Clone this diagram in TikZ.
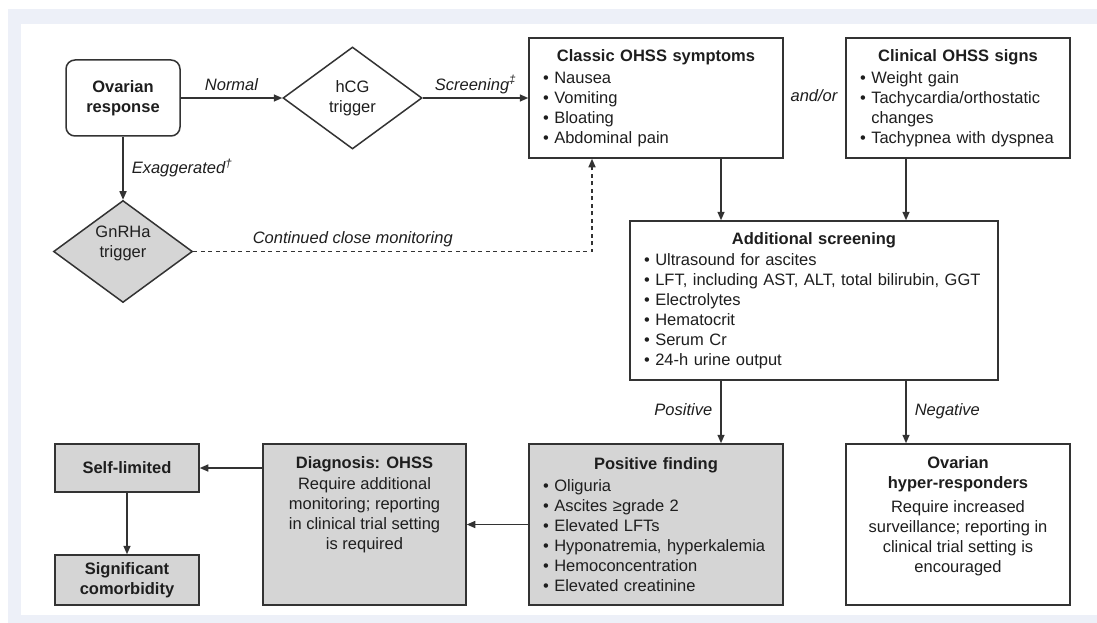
\documentclass[tikz,border=0pt]{standalone}
\usepackage{fontspec}
\setmainfont{Liberation Sans}
\usetikzlibrary{shapes.geometric,arrows.meta}
\setlength{\parindent}{0pt}

\definecolor{linec}{HTML}{333333}
\definecolor{txtc}{HTML}{1E1E1E}
\definecolor{fillgray}{HTML}{D5D5D5}
\definecolor{framebg}{HTML}{EDF0F8}

\tikzset{
  box/.style={draw=linec, line width=1.5pt, rectangle, inner sep=0pt},
  graybox/.style={box, fill=fillgray},
  decision/.style={draw=linec, line width=1.5pt, diamond, inner sep=0pt,
                   minimum width=139pt, minimum height=102pt, align=center},
  arr/.style={draw=linec, line width=1.5pt, -{Triangle[length=8.5pt,width=7pt]}},
  lbl/.style={font=\fontsize{16.5}{20}\selectfont\itshape, inner sep=3pt, text depth=4pt},
}

\begin{document}
\begin{tikzpicture}[x=1pt, y=-1pt,
    every node/.style={font=\fontsize{16.5}{20}\selectfont, text=txtc}]
% frame
\useasboundingbox (0,0) rectangle (1097,623);
\fill[white] (0,0) rectangle (1097,623);
\fill[framebg] (8,9) rectangle (1097,623);
\fill[white] (21,24) rectangle (1097,615);

% columns of the vertical arrows
\coordinate (lcol) at (721,0);
\coordinate (rcol) at (906,0);
\coordinate (dcol) at (592,0);

% top row
\node[box, rounded corners=9pt, minimum width=114pt, minimum height=76pt, align=center,
      font=\fontsize{16.5}{20}\selectfont\bfseries] (ovarian) at (123,98) {Ovarian\\response};
\node[decision] (hcg) at (352.5,98) {hCG\\trigger};
\node[box, minimum width=254pt, minimum height=120pt, text width=226pt] (classic) at (656,98)
  {{\centering\bfseries Classic OHSS symptoms\par}\vspace{2pt}
   • Nausea\\ • Vomiting\\ • Bloating\\ • Abdominal pain};
\node[lbl] (andor) at (814,98) {and/or};
\node[box, minimum width=224pt, minimum height=120pt, text width=196pt] (clinical) at (958,98)
  {{\centering\bfseries Clinical OHSS signs\par}\vspace{2pt}
   • Weight gain\\ • Tachycardia/orthostatic\\ \phantom{• }changes\\ • Tachypnea with dyspnea};

% middle
\node[decision, fill=fillgray] (gnrha) at (123,251.5) {};
\node[align=center] (gnrhatxt) at (123,243.5) {GnRHa\\trigger};
\node[box, minimum width=368pt, minimum height=159pt, text width=340pt] (additional) at (814,300.5)
  {{\centering\bfseries Additional screening\par}\vspace{1pt}
   • Ultrasound for ascites\\ • LFT, including AST, ALT, total bilirubin, GGT\\ • Electrolytes\\
   • Hematocrit\\ • Serum Cr\\ • 24-h urine output};

% bottom row
\node[graybox, minimum width=254pt, minimum height=161pt, text width=226pt] (positive) at (656,524.5)
  {{\centering\bfseries Positive finding\par}\vspace{2pt}
   • Oliguria\\ • Ascites ≥grade 2\\ • Elevated LFTs\\ • Hyponatremia, hyperkalemia\\
   • Hemoconcentration\\ • Elevated creatinine};
\node[box, minimum width=224pt, minimum height=161pt] (hyper) at (958,524.5) {};
\node[align=center, anchor=north, inner sep=0pt] (hypertxt) at ([yshift=-13pt]hyper.north)
  {\textbf{Ovarian}\\ \textbf{hyper-responders}\\[4pt] Require increased\\ surveillance; reporting in\\
   clinical trial setting is\\ encouraged};
\node[graybox, minimum width=203pt, minimum height=161pt] (diag) at (364.5,524.5) {};
\node[align=center, anchor=north, inner sep=0pt] (diagtxt) at ([yshift=-13pt]diag.north)
  {\textbf{Diagnosis: OHSS}\\[1pt] Require additional\\ monitoring; reporting\\
   in clinical trial setting\\ is required};
\node[graybox, minimum width=144pt, minimum height=48pt, font=\fontsize{16.5}{20}\selectfont\bfseries]
  (selflim) at (127,468) {Self-limited};
\node[graybox, minimum width=144pt, minimum height=50pt, align=center,
      font=\fontsize{16.5}{20}\selectfont\bfseries] (signif) at (127,580) {Significant\\comorbidity};

% connectors
\path (ovarian) edge[arr] node[lbl, above] {Normal} (hcg);
\path (hcg) edge[arr] node[lbl, above] {Screening\textsuperscript{‡}} (classic);
\path (ovarian) edge[arr] node[lbl, right=5pt] {Exaggerated\textsuperscript{†}} (gnrha);
\draw[arr] (classic.south -| lcol) -- (additional.north -| lcol);
\draw[arr] (clinical.south -| rcol) -- (additional.north -| rcol);
\draw[arr] (additional.south -| lcol) -- node[lbl, left=5pt] {Positive} (positive.north -| lcol);
\draw[arr] (additional.south -| rcol) -- node[lbl, right=5pt] {Negative} (hyper.north -| rcol);
\path (positive) edge[arr] (diag);
\draw[arr] (selflim.east -| diag.west) -- (selflim.east);
\path (selflim) edge[arr] (signif);
\draw[arr, dash pattern=on 4pt off 3.5pt] (gnrha.east) -| (classic.south -| dcol)
  node[lbl, above, pos=0.2] {Continued close monitoring};
\end{tikzpicture}
\end{document}
